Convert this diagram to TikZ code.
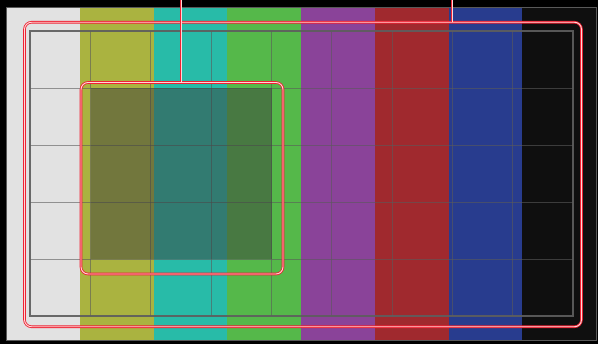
\documentclass[tikz,border=0pt]{standalone}
\begin{document}
\begin{tikzpicture}[x=1pt,y=-1pt,
  bar/.style={fill=#1,draw=none},
  gridline/.style={draw=gridgray,line width=0.9pt,opacity=0.6},
  gridframe/.style={draw=framegray,line width=2pt,opacity=0.92},
  shade/.style={fill=shadegray,opacity=0.5,draw=none},
  callout/.style={draw=calred,line width=0.85pt,double=calpink,double distance=0.9pt},
  zone/.style={callout,rectangle,rounded corners=7pt,inner sep=0pt}]
\definecolor{barwhite}{HTML}{E2E2E2}
\definecolor{baryellow}{HTML}{AAB340}
\definecolor{barcyan}{HTML}{28BBA8}
\definecolor{bargreen}{HTML}{55B84A}
\definecolor{barmagenta}{HTML}{8A4399}
\definecolor{barred}{HTML}{A0292E}
\definecolor{barblue}{HTML}{283C8E}
\definecolor{barblack}{HTML}{0F0F0F}
\definecolor{gridgray}{HTML}{5A5A5A}
\definecolor{framegray}{HTML}{5E5E5E}
\definecolor{shadegray}{HTML}{3C3C3C}
\definecolor{calred}{HTML}{EE2233}
\definecolor{calpink}{HTML}{FFD8D8}
\useasboundingbox (0,0) rectangle (598,344);
\fill[black] (0,0) rectangle (598,344);
% colour bars
\foreach \c [count=\i from 0] in {barwhite,baryellow,barcyan,bargreen,barmagenta,barred,barblue,barblack}{
  \fill[bar=\c] ({6+73.75*\i},7) rectangle ({6+73.75*(\i+1)},340);
}
\draw[draw=gray!70!black,line width=0.8pt] (6,7) rectangle (596,340);
% grid
\foreach \i in {1,...,8}{
  \draw[gridline] ({30+543/9*\i},31) -- ({30+543/9*\i},316.5);
}
\foreach \j in {1,...,4}{
  \draw[gridline] (30,{31+57.1*\j}) -- (573,{31+57.1*\j});
}
\draw[gridframe] (30,31) rectangle (573,316.5);
% shaded region
\fill[shade] (90.5,88.1) rectangle (271.5,259.4);
% callout zones
\path (303,174.5) node[zone,minimum width=557pt,minimum height=304.5pt] (big) {};
\path (182,178.25) node[zone,minimum width=202pt,minimum height=191.5pt] (small) {};
\coordinate (t1) at (181,0);
\coordinate (t2) at (452,0);
\draw[callout] (t1) -- (t1 |- small.north);
\draw[callout] (t2) -- (t2 |- big.north);
\end{tikzpicture}
\end{document}
